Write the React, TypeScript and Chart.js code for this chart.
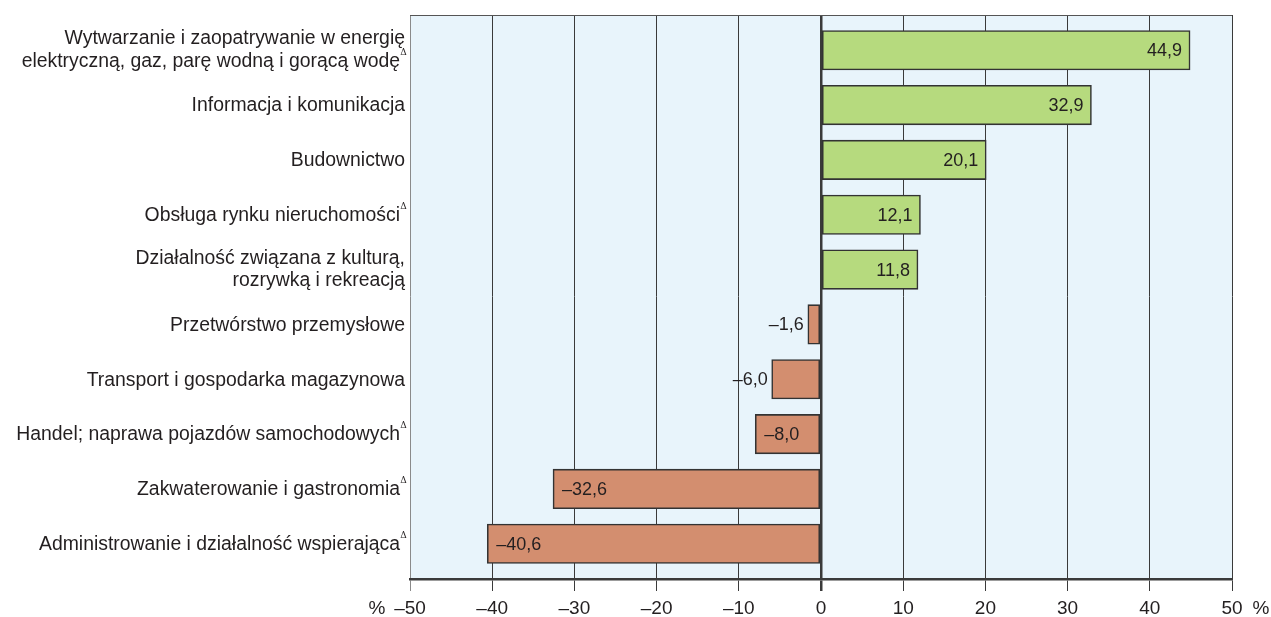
import React, { useEffect, useRef } from "react";
import { Chart, registerables } from "chart.js";

Chart.register(...registerables);

const categories: string[] = [
  "Wytwarzanie i zaopatrywanie w energię\nelektryczną, gaz, parę wodną i gorącą wodę",
  "Informacja i komunikacja",
  "Budownictwo",
  "Obsługa rynku nieruchomości",
  "Działalność związana z kulturą,\nrozrywką i rekreacją",
  "Przetwórstwo przemysłowe",
  "Transport i gospodarka magazynowa",
  "Handel; naprawa pojazdów samochodowych",
  "Zakwaterowanie i gastronomia",
  "Administrowanie i działalność wspierająca",
];
const deltaMarks: boolean[] = [true, false, false, true, false, false, false, true, true, true];
const values: number[] = [44.9, 32.9, 20.1, 12.1, 11.8, -1.6, -6.0, -8.0, -32.6, -40.6];
const xMin = -50;
const xMax = 50;
const xStep = 10;
const unitLabel = "%";

const POS_COLOR = "#b6da7e";
const NEG_COLOR = "#d38e6f";
const TEXT_COLOR = "#231f20";
const LABEL_FONT = '19.4px "Liberation Sans", Arial, sans-serif';
const VALUE_FONT = '18px "Liberation Sans", Arial, sans-serif';
const DELTA_FONT = '9px "DejaVu Serif", serif';
const TICK_FAMILY = '"Liberation Sans", Arial, sans-serif';

const fmt = (v: number) => (v < 0 ? "\u2013" : "") + Math.abs(v).toFixed(1).replace(".", ",");

const decorPlugin = {
  id: "decor",
  beforeDraw(chart: any) {
    const { ctx, chartArea: a } = chart;
    ctx.save();
    ctx.fillStyle = "#e8f4fb";
    ctx.fillRect(a.left, a.top, a.right - a.left, a.bottom - a.top);
    ctx.restore();
  },
  afterDatasetsDraw(chart: any) {
    const { ctx } = chart;
    const meta = chart.getDatasetMeta(0);
    ctx.save();
    ctx.font = VALUE_FONT;
    ctx.fillStyle = TEXT_COLOR;
    ctx.textBaseline = "middle";
    meta.data.forEach((bar: any, i: number) => {
      const v = values[i];
      const { x, y, base } = bar.getProps(["x", "y", "base"], true);
      const t = fmt(v);
      const w = ctx.measureText(t).width;
      if (v >= 0) {
        ctx.textAlign = "right";
        ctx.fillText(t, x - 8, y + 1);
      } else {
        const barW = base - x;
        if (w + 18 > barW) {
          ctx.textAlign = "right";
          ctx.fillText(t, x - 4, y + 1);
        } else {
          ctx.textAlign = "left";
          ctx.fillText(t, x + 9, y + 1);
        }
      }
    });
    ctx.restore();
  },
  afterDraw(chart: any) {
    const { ctx, chartArea: a } = chart;
    const yScale = chart.scales.y;
    ctx.save();
    // top border
    ctx.strokeStyle = "#555";
    ctx.lineWidth = 1;
    ctx.beginPath();
    ctx.moveTo(a.left, a.top + 0.5);
    ctx.lineTo(a.right, a.top + 0.5);
    ctx.stroke();

    // category labels
    ctx.fillStyle = TEXT_COLOR;
    ctx.textBaseline = "middle";
    const lineH = 22.5;
    categories.forEach((label, i) => {
      const lines = label.split("\n");
      const cy = yScale.getPixelForValue(i);
      const startY = cy - ((lines.length - 1) * lineH) / 2 - (lines.length > 1 ? 1 : 0);
      lines.forEach((ln, j) => {
        const ly = startY + j * lineH + 1;
        const isLast = j === lines.length - 1;
        ctx.font = LABEL_FONT;
        ctx.textAlign = "right";
        if (isLast && deltaMarks[i]) {
          ctx.fillText(ln, 400, ly);
          ctx.font = DELTA_FONT;
          ctx.textAlign = "center";
          ctx.fillText("\u0394", 403.5, ly - 9);
        } else {
          ctx.fillText(ln, 405, ly);
        }
      });
    });

    // unit labels
    ctx.font = "19px " + TICK_FAMILY;
    ctx.textAlign = "center";
    ctx.fillText(unitLabel, 377, 609);
    ctx.fillText(unitLabel, 1261, 609);
    ctx.restore();
  },
};

export default function App() {
  const ref = useRef<HTMLCanvasElement | null>(null);
  useEffect(() => {
    if (!ref.current) return;
    const chart = new Chart(ref.current, {
      type: "bar",
      data: {
        datasets: [
          {
            data: values.map((v, i) => ({ x: v, y: i })) as any,
            backgroundColor: values.map((v) => (v >= 0 ? POS_COLOR : NEG_COLOR)),
            borderColor: "#333",
            borderWidth: 1.6,
            borderSkipped: false,
            barThickness: 39.5,
          },
        ],
      },
      options: {
        indexAxis: "y",
        animation: false,
        responsive: true,
        maintainAspectRatio: false,
        layout: { padding: { left: 0, top: 15, right: 39, bottom: 0 } },
        plugins: { legend: { display: false }, tooltip: { enabled: false } },
        scales: {
          x: {
            type: "linear",
            position: "bottom",
            min: xMin,
            max: xMax,
            afterFit: (s: any) => {
              s.height = 38;
            },
            ticks: {
              stepSize: xStep,
              padding: 6,
              color: TEXT_COLOR,
              font: { family: TICK_FAMILY, size: 19 },
              callback: (v: any) => (Number(v) < 0 ? "\u2013" + Math.abs(Number(v)) : String(v)),
            },
            grid: {
              color: (c: any) => (c.tick && c.tick.value === xMin ? "#8a8a8a" : "#3a3a3a"),
              lineWidth: (c: any) => (c.tick && c.tick.value === 0 ? 2.5 : 1),
              tickLength: 12,
              drawTicks: true,
            },
            border: { display: true, color: "#3a3a3a", width: 2.5 },
          },
          y: {
            type: "linear",
            reverse: true,
            offset: false,
            min: -0.642,
            max: categories.length - 1 + 0.642,
            afterFit: (s: any) => {
              s.width = 410;
            },
            ticks: { display: false },
            grid: { display: false, offset: false },
            border: { display: false },
          },
        },
      },
      plugins: [decorPlugin],
    });
    return () => chart.destroy();
  }, []);
  return (
    <div style={{ position: "fixed", left: 0, top: 0, width: 1271, height: 617, background: "#fff" }}>
      <canvas ref={ref} />
    </div>
  );
}
